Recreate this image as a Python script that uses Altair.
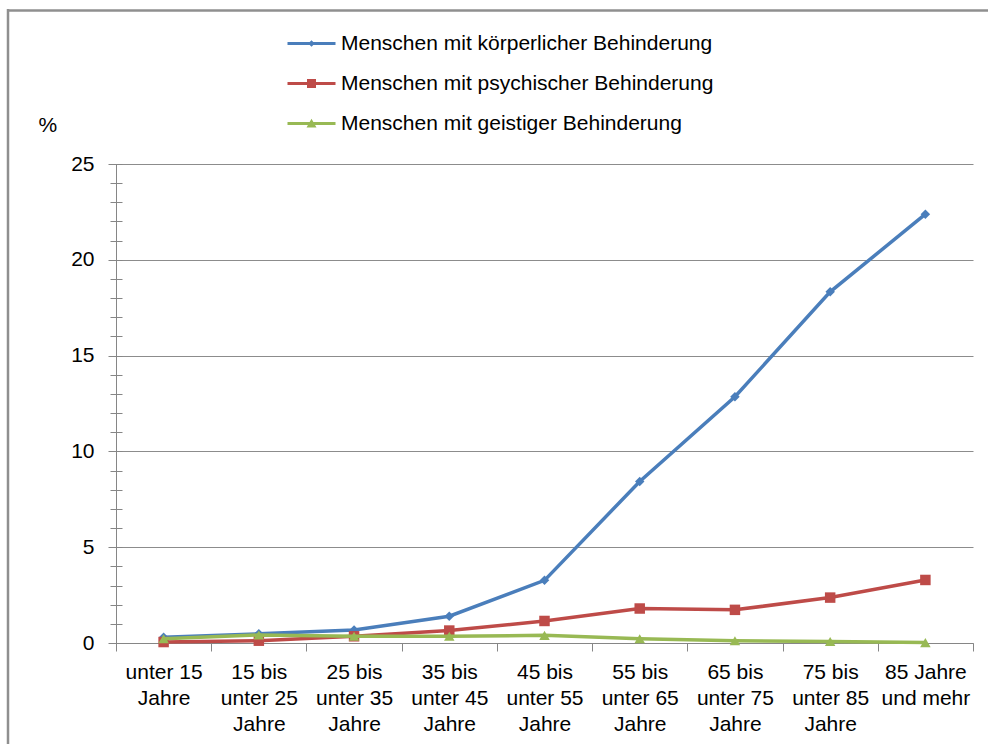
import altair as alt
import pandas as pd

categories = [
    "unter 15|Jahre",
    "15 bis|unter 25|Jahre",
    "25 bis|unter 35|Jahre",
    "35 bis|unter 45|Jahre",
    "45 bis|unter 55|Jahre",
    "55 bis|unter 65|Jahre",
    "65 bis|unter 75|Jahre",
    "75 bis|unter 85|Jahre",
    "85 Jahre|und mehr",
]
series_names = [
    "Menschen mit körperlicher Behinderung",
    "Menschen mit psychischer Behinderung",
    "Menschen mit geistiger Behinderung",
]
koerperlich = [0.30, 0.48, 0.68, 1.40, 3.27, 8.43, 12.85, 18.33, 22.38]
psychisch = [0.05, 0.12, 0.35, 0.65, 1.15, 1.80, 1.73, 2.37, 3.29]
geistig = [0.22, 0.42, 0.35, 0.35, 0.40, 0.22, 0.12, 0.08, 0.02]
y_major = [0, 5, 10, 15, 20, 25]
y_minor = list(range(0, 26))

colors = ["#4A7EBB", "#BE4B48", "#98B954"]
markers = ["diamond", "square", "triangle-up"]
marker_sizes = [90, 110, 110]
legend_paths = [
    "M-2.4,-0.16H2.4V0.16H-2.4Z M0,-0.33L0.33,0L0,0.33L-0.33,0Z",
    "M-2.4,-0.16H2.4V0.16H-2.4Z M-0.45,-0.45H0.45V0.45H-0.45Z",
    "M-2.4,-0.16H2.4V0.16H-2.4Z M0,-0.48L0.5,0.4L-0.5,0.4Z",
]

rows = []
for name, vals in zip(series_names, [koerperlich, psychisch, geistig]):
    for c, v in zip(categories, vals):
        rows.append({"Altersgruppe": c, "Serie": name, "Wert": v})
df = pd.DataFrame(rows)

FONT = "Liberation Sans"
FS = 21
GREY = "#868686"

x_axis = alt.Axis(
    title=None, labelAngle=0, labelExpr="split(datum.label, '|')",
    tickBand="extent", tickSize=8, labelPadding=10, labelLineHeight=26,
    labelFontSize=FS, labelFont=FONT, labelColor="#000", labelBaseline="top",
    domainColor=GREY, tickColor=GREY, grid=False, labelLimit=200,
)
x_scale = alt.Scale(type="band", domain=categories, paddingInner=0, paddingOuter=0)
y_scale = alt.Scale(domain=[0, 25], nice=False, zero=True)

main_y_axis = alt.Axis(
    orient="left", values=y_major, title="%", titleAngle=0, titleAlign="left",
    titleBaseline="middle", titleX=-78, titleY=-39, titleFont=FONT,
    titleFontSize=FS, titleFontWeight="normal", titleColor="#000",
    labelFont=FONT, labelFontSize=FS, labelColor="#000", labelPadding=14,
    tickSize=8, tickColor=GREY, domainColor=GREY, grid=True,
    gridColor="#8c8c8c", gridWidth=1,
)
minor_y_axis = alt.Axis(
    orient="left", values=y_minor, tickSize=12, offset=-6, domain=False,
    labels=False, grid=False, title=None, tickColor=GREY,
)


def xenc():
    return alt.X("Altersgruppe:N", sort=categories, scale=x_scale, axis=x_axis)


frame_data = pd.DataFrame({"k": [0]})
frame_top = alt.Chart(frame_data).mark_rule(color="#8f8f8f", strokeWidth=2.5).encode(
    x=alt.value(-108), x2=alt.value(880), y=alt.value(-153.5)
)
frame_left = alt.Chart(frame_data).mark_rule(color="#8f8f8f", strokeWidth=2.5).encode(
    x=alt.value(-108), y=alt.value(-155), y2=alt.value(600)
)

layers = [frame_top, frame_left]
for i, (name, col, mk, sz) in enumerate(zip(series_names, colors, markers, marker_sizes)):
    base = alt.Chart(df).transform_filter(alt.datum.Serie == name)
    yaxis = main_y_axis if i == 0 else None
    line = base.mark_line(color=col, strokeWidth=3.5).encode(
        x=xenc(), y=alt.Y("Wert:Q", scale=y_scale, axis=yaxis)
    )
    pts = base.mark_point(shape=mk, filled=True, size=sz, color=col, opacity=1).encode(
        x=xenc(), y=alt.Y("Wert:Q", scale=y_scale, axis=None)
    )
    layers += [line, pts]

legend_obj = alt.Legend(
    title=None, orient="none", legendX=185, legendY=-131, direction="vertical",
    symbolSize=400, symbolStrokeWidth=0, labelFont=FONT, labelFontSize=FS,
    labelColor="#000", labelOffset=19, rowPadding=18, padding=0,
    symbolOpacity=1, labelLimit=600,
)
legend_layer = alt.Chart(df).transform_filter("false").mark_point(filled=True, opacity=1).encode(
    y=alt.Y("Wert:Q", scale=y_scale, axis=minor_y_axis),
    color=alt.Color("Serie:N", scale=alt.Scale(domain=series_names, range=colors), legend=legend_obj),
    shape=alt.Shape("Serie:N", scale=alt.Scale(domain=series_names, range=legend_paths), legend=legend_obj),
)
layers.append(legend_layer)

chart = alt.layer(*layers).resolve_axis(y="independent").properties(
    width=857, height=479,
    padding={"left": 116, "top": 164, "right": 15, "bottom": 101},
    autosize=alt.AutoSizeParams(type="none"),
    background="white",
).configure_view(stroke=None)

chart.save("out.html", embed_options={"renderer": "svg", "actions": False})
